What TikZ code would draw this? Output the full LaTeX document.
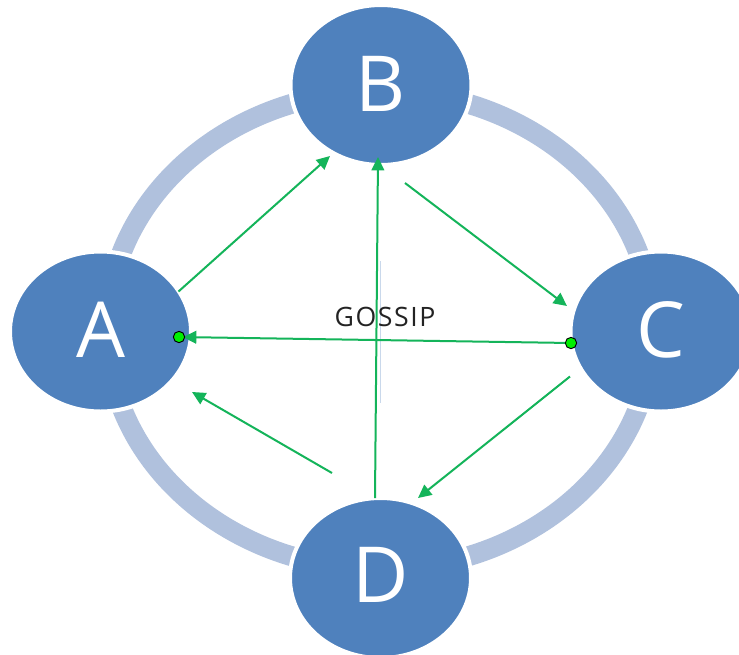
\documentclass[tikz,border=0pt]{standalone}
\usepackage{fontspec}
\setmainfont{Open Sans}
\newfontfamily\gossipfont[LetterSpace=6]{Open Sans}
\usetikzlibrary{shapes.geometric,arrows.meta}
\definecolor{nodeblue}{RGB}{79,129,189}
\definecolor{ringblue}{RGB}{176,193,221}
\definecolor{arrgreen}{RGB}{20,180,90}
\definecolor{dotgreen}{RGB}{0,240,0}
\definecolor{textdark}{RGB}{35,35,35}
\begin{document}
\begin{tikzpicture}[x=0.75pt,y=-0.75pt,
  ell/.style={ellipse, fill=nodeblue, draw=white, line width=3pt,
    minimum width=135.75pt, minimum height=120pt, inner sep=0pt, outer sep=0pt,
    text=white, font=\fontsize{58}{60}\selectfont},
  arr/.style={draw=arrgreen, line width=1.5pt, -{Triangle[length=10pt,width=9.5pt]}},
  gdot/.style={circle, fill=dotgreen, draw=black, line width=0.7pt,
    minimum size=8.5pt, inner sep=0pt},
  ring/.style={draw=ringblue, line width=15pt},
  lbl/.style={text=textdark, font=\gossipfont\fontsize{20}{22}\selectfont, inner sep=0pt}]
\fill[white] (0,0) rectangle (739,654);
\useasboundingbox (0,0) rectangle (739,654);
\clip (0,0) rectangle (739,654);

% outer ring
\draw[ring] (380,330) ellipse [x radius=273, y radius=239];

% nodes
\node[ell] (A) at (100.5,331.5) {\raisebox{3pt}{A}};
\node[ell] (B) at (381,85) {\raisebox{2pt}{B}};
\node[ell] (C) at (661,331.5) {\raisebox{3pt}{C}};
\node[ell] (D) at (380.5,578) {\raisebox{4pt}{D}};

% faint blue trace beside the vertical connector
\draw[nodeblue, opacity=0.3, line width=0.7pt] ([shift={(-1,176)}]B.center) -- ([shift={(-1,318)}]B.center);

% connectors
\draw[arr] ([shift={(78,-40)}]A.center) -- ([shift={(-51,71)}]B.center);
\draw[arr] ([shift={(-5.5,-80)}]D.center) -- ([shift={(-3,72)}]B.center);
\draw[arr] ([shift={(24,98)}]B.center) -- ([shift={(-94,-25.5)}]C.center);
\draw[arr] ([shift={(-91,45)}]C.center) -- ([shift={(37.5,-80)}]D.center);
\draw[arr] ([shift={(-48.5,-105)}]D.center) -- ([shift={(91.5,60.5)}]A.center);

\coordinate (pA) at ([shift={(78.5,5.5)}]A.center);
\coordinate (pC) at ([shift={(-90,11.5)}]C.center);
\draw[arr, shorten >=3pt] (pC) -- (pA);
\node[gdot] (dA) at (pA) {};
\node[gdot] (dC) at (pC) {};

% label
\node[lbl] (gossip) at (385,317) {GOSSIP};
\end{tikzpicture}
\end{document}
